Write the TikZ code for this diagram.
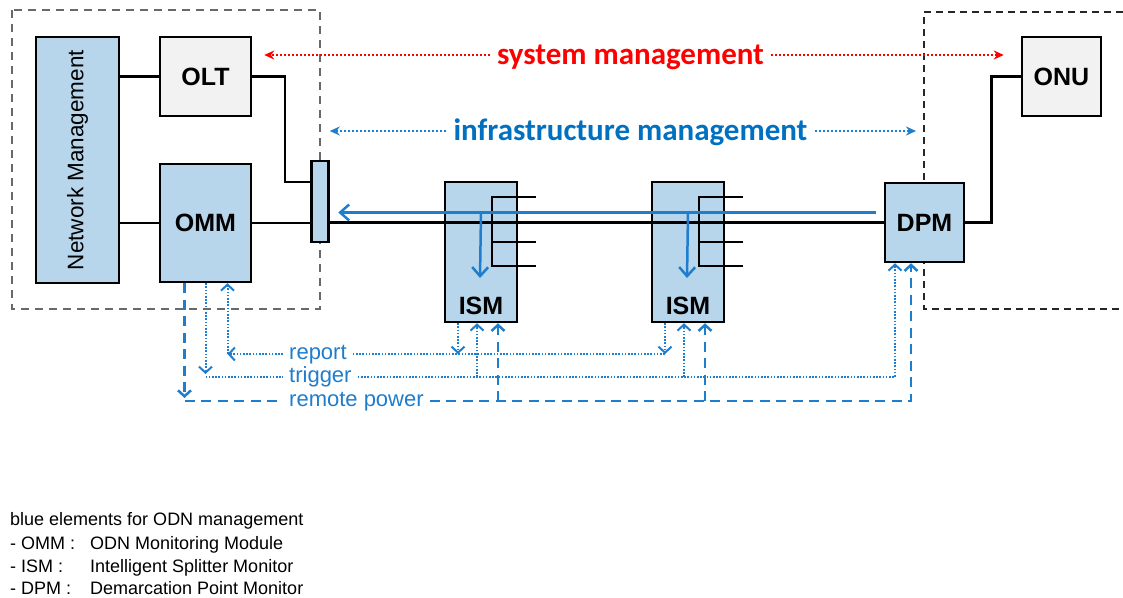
\documentclass[tikz,border=0pt]{standalone}
\usepackage{fontspec}
\usepackage{graphicx}
\setmainfont{Liberation Sans}
\newfontfamily\mgmtfont{Carlito}
\usetikzlibrary{arrows.meta,positioning}
\definecolor{odnfill}{RGB}{183,214,235}
\definecolor{boxgray}{RGB}{242,242,242}
\definecolor{odnblue}{RGB}{30,125,205}
\definecolor{infblue}{RGB}{0,112,192}
\definecolor{framegray}{RGB}{105,105,105}
\tikzset{
  box/.style={draw,line width=2.5pt,inner sep=0pt,font=\bfseries\fontsize{25}{30}\selectfont},
  odn/.style={box,fill=odnfill},
  eqbox/.style={box,fill=boxgray,minimum width=91pt,minimum height=79pt},
  ismbox/.style={odn,minimum width=72pt,minimum height=140pt},
  lbl/.style={inner sep=0pt,anchor=south,font=\bfseries\fontsize{25}{30}\selectfont},
  wire/.style={line width=2.5pt},
  feed/.style={odnblue,line width=2.5pt,-{Straight Barb[length=9pt,width=16pt]}},
  mgmt/.style={font=\mgmtfont\bfseries\fontsize{31}{36}\selectfont,text height=19.5pt,text depth=0pt,inner xsep=7pt},
  mgmtline/.style={line width=2.5pt,dash pattern=on 2pt off 2pt,-{Stealth[length=10pt,width=9pt]}},
  dotline/.style={odnblue,line width=2pt,dash pattern=on 1.6pt off 1.6pt,>={Straight Barb[length=6pt,width=13pt]}},
  dashline/.style={odnblue,line width=2.5pt,dash pattern=on 10pt off 6.5pt,>={Straight Barb[length=6pt,width=13pt]}},
  rowlbl/.style={odnblue,anchor=west,inner xsep=6pt,text height=11.4pt,text depth=0pt,font=\fontsize{22}{26}\selectfont},
  legend/.style={anchor=base west,inner sep=0pt,font=\fontsize{18}{22}\selectfont}
}
\begin{document}
\begin{tikzpicture}[x=1pt,y=-1pt]
\useasboundingbox (0,0) rectangle (1123,597);
\draw[line width=2.5pt,framegray,dash pattern=on 8pt off 6pt] (12,10) rectangle (320,309);
\draw[line width=2pt,black!85,dash pattern=on 7pt off 5pt] (1135,12) -- (924,12) -- (924,309) -- (1135,309);
\coordinate (onudom) at (924,12);
\node[odn,minimum width=83pt,minimum height=246pt,font=\fontsize{22.5}{26}\selectfont] (nm) at (77.5,160) {\rotatebox{90}{Network Management}};
\node[eqbox] (olt) at (205.5,76.5) {OLT};
\node[odn,minimum width=91pt,minimum height=118pt] (omm) at (205.5,223) {OMM};
\node[odn,minimum width=17pt,minimum height=81pt] (cpl) at (320,201.5) {};
\node[ismbox] (ism1) at (481,252) {};
\node[ismbox] (ism2) at (688,252) {};
\node[lbl,above=8pt of ism1.south] (ism1lbl) {ISM};
\node[lbl,above=8pt of ism2.south] (ism2lbl) {ISM};
\node[odn,minimum width=79pt,minimum height=79pt] (dpm) at (924.5,222.5) {DPM};
\node[eqbox,minimum width=79pt] (onu) at (1061.5,76.5) {ONU};
% fibre
\coordinate (oltbend) at (285,182);
\draw[wire] (nm.east |- olt) -- (olt.west);
\draw[wire] (nm.east |- omm) -- (omm.west);
\draw[wire] (olt.east) -| (oltbend) -- (oltbend -| cpl.west);
\draw[wire] (omm.east) -- (omm.east -| cpl.west);
\draw[wire] (cpl.east |- dpm.west) -- (dpm.west);
\draw[wire] (dpm.east) -- ++(26,0) |- (onu.west);
\foreach \s in {ism1,ism2}{
  \draw[wire] ([shift={(55,-55)}]\s.center) -- ++(-44,0) |- ([shift={(55,14)}]\s.center);
  \draw[wire] ([shift={(11,-10)}]\s.center) -- ++(44,0);
}
\coordinate (fb) at ([shift={(-8,-10)}]dpm.west);
\draw[feed,shorten >=8.5pt] (fb) -- (fb -| cpl.east);
\foreach \s in {ism1,ism2}
  \draw[feed] (fb -| \s) -- ([shift={(-1,26)}]\s.center);
% management
\node[mgmt,red] (sysm) at (630.5,55) {system management};
\node[mgmt,infblue] (infm) at (630.5,131) {infrastructure management};
\draw[mgmtline,red,shorten >=12pt] (sysm) -- (olt.east |- sysm);
\draw[mgmtline,red,shorten >=17pt] (sysm) -- (onu.west |- sysm);
\draw[mgmtline,odnblue] (infm) -- (cpl.east |- infm);
\draw[mgmtline,odnblue,shorten >=8pt] (infm) -- (onudom |- infm);
% report / trigger / remote power
\coordinate (ommpw) at ([xshift=-21pt]omm.south);
\coordinate (ommrp) at ([xshift=22pt]omm.south);
\coordinate (dpmtg) at ([xshift=-29.5pt]dpm.south);
\coordinate (dpmpw) at ([xshift=-13.5pt]dpm.south);
\foreach \s in {ism1,ism2}{
  \coordinate (\s rp) at ([xshift=-23pt]\s.south);
  \coordinate (\s tg) at ([xshift=-4pt]\s.south);
  \coordinate (\s pw) at ([xshift=17pt]\s.south);
}
\node[rowlbl] (replbl) at (283,354) {report};
\node[rowlbl] (trglbl) at (283,377) {trigger};
\node[rowlbl] (pwrlbl) at (283,401) {remote power};
\draw[dotline,->] (replbl.west) -- (ommrp |- replbl.west);
\draw[dotline,->] (ommrp |- replbl.west) -- (ommrp);
\draw[dotline] (replbl.east) -- (ism2rp |- replbl.east);
\draw[dotline,->,shorten >=3pt] (omm.south) -- (omm.south |- trglbl.west);
\draw[dotline] (omm.south |- trglbl.west) -- (trglbl.west);
\draw[dotline,->] (trglbl.east) -| (dpmtg);
\draw[dashline,->,shorten >=3pt] (ommpw) -- (ommpw |- pwrlbl.west);
\draw[dashline] (ommpw |- pwrlbl.west) -- (pwrlbl.west);
\draw[dashline,->] (pwrlbl.east) -| (dpmpw);
\foreach \s in {ism1,ism2}{
  \draw[dotline,->] (\s rp) -- (\s rp |- replbl.west);
  \draw[dotline,->] (\s tg |- trglbl.west) -- (\s tg);
  \draw[dashline,->] (\s pw |- pwrlbl.west) -- (\s pw);
}
% legend
\node[legend] (legtitle) at (10,525) {blue elements for ODN management};
\foreach \y/\k/\t [count=\i] in {549.5/OMM/ODN Monitoring Module,572/ISM/Intelligent Splitter Monitor,594/DPM/Demarcation Point Monitor}{
  \node[legend] (leg\i) at (10,\y) {-~\k~:};
  \node[legend] (legtxt\i) at (90,\y) {\t};
}
\end{tikzpicture}
\end{document}
